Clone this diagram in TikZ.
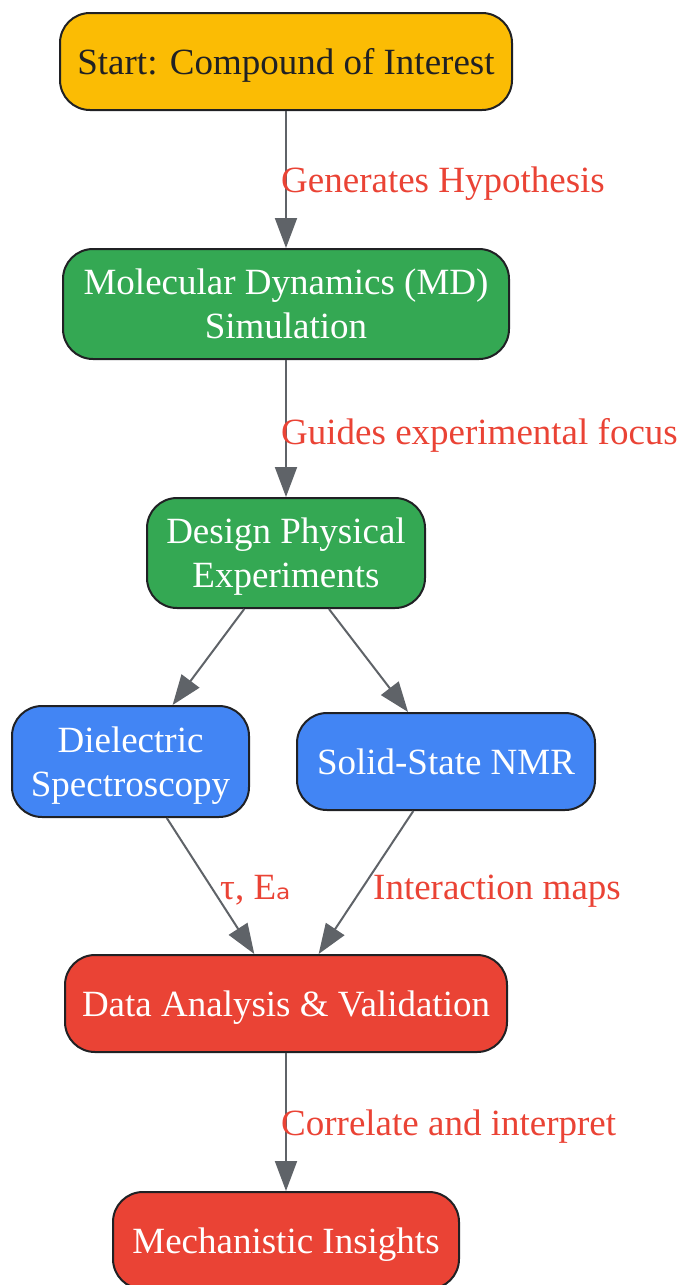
\documentclass[tikz,border=0pt]{standalone}
\usepackage{fontspec}
\setmainfont{Liberation Serif}
\newfontfamily\djv{DejaVu Sans}
\usetikzlibrary{arrows.meta}
\definecolor{gyellow}{HTML}{FBBC04}
\definecolor{ggreen}{HTML}{34A853}
\definecolor{gblue}{HTML}{4285F4}
\definecolor{gred}{HTML}{EA4335}
\definecolor{gborder}{HTML}{202124}
\definecolor{garrow}{HTML}{5F6368}
\definecolor{glabel}{HTML}{EA4335}
\tikzset{
  box/.style={draw=gborder, line width=2pt, rounded corners=30pt, align=center,
    inner sep=0pt, text depth=0pt, text=white, font=\fontsize{37}{44}\selectfont},
  lbl/.style={text=glabel, inner sep=0pt, anchor=west, font=\fontsize{37}{44}\selectfont},
  conn/.style={draw=garrow, line width=2pt, -{Triangle[length=30pt,width=22pt]}}
}
\begin{document}
\begin{tikzpicture}[x=1pt,y=-1pt]
\useasboundingbox (0,0) rectangle (686,1285);
\node[box, fill=gyellow, text=gborder, minimum width=452pt, minimum height=97pt] (start) at (286,61.5) {Start: Compound of Interest};
\node[box, fill=ggreen, minimum width=446pt, minimum height=110pt] (md) at (286,304) {Molecular Dynamics (MD)\\Simulation};
\node[box, fill=ggreen, minimum width=278pt, minimum height=110pt] (design) at (286,553) {Design Physical\\Experiments};
\node[box, fill=gblue, minimum width=237pt, minimum height=111pt] (diel) at (130.5,761.5) {Dielectric\\Spectroscopy};
\node[box, fill=gblue, minimum width=298pt, minimum height=97pt] (nmr) at (446,761.5) {Solid-State NMR};
\node[box, fill=gred, minimum width=442pt, minimum height=97pt] (data) at (286,1003.5) {Data Analysis \& Validation};
\node[box, fill=gred, minimum width=346pt, minimum height=97pt] (mech) at (286,1240.5) {Mechanistic Insights};

\draw[conn] (start) -- (md);
\draw[conn] (md) -- (design);
\draw[conn] (design) -- (diel);
\draw[conn] (design) -- (nmr);
\draw[conn] (diel) -- (data);
\draw[conn] (nmr) -- (data);
\draw[conn] (data) -- (mech);

\node[lbl] (l1) at (281,184) {Generates Hypothesis};
\node[lbl] (l2) at (281,435) {Guides experimental focus};
\node[lbl] (l3) at (220,890) {τ, E{\djv\fontsize{37}{44}\selectfont ₐ}};
\node[lbl] (l4) at (373,891) {Interaction maps};
\node[lbl] (l5) at (281,1127) {Correlate and interpret};
\end{tikzpicture}
\end{document}
